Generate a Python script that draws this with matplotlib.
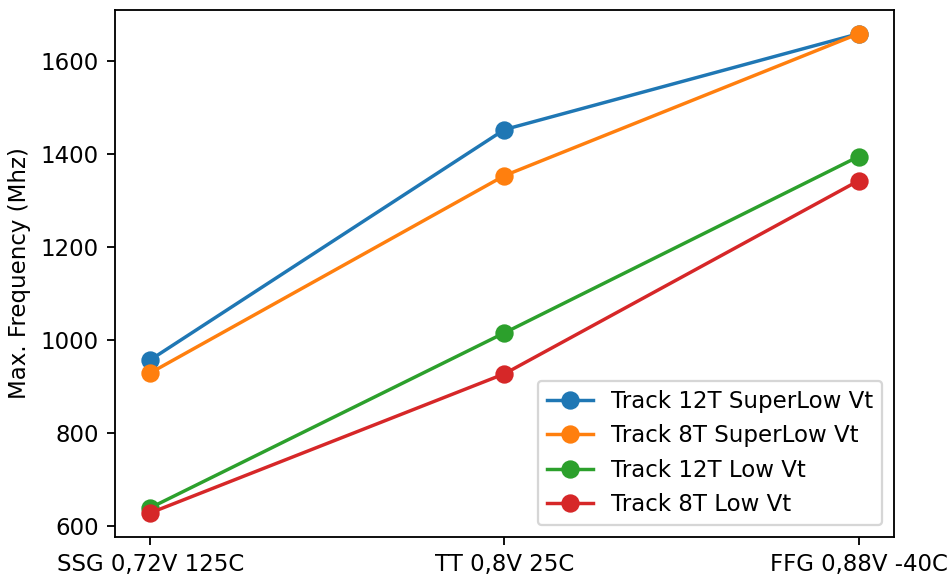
import matplotlib
matplotlib.use("Agg")
import matplotlib.pyplot as plt

# corners
corners = ["SSG 0,72V 125C", "TT 0,8V 25C", "FFG 0,88V -40C"]

# max frequency per library (Mhz)
track12_superlow = [957, 1452, 1658]
track8_superlow = [929, 1353, 1658]
track12_low = [639, 1015, 1394]
track8_low = [628, 927, 1342]

series = [
    ("Track 12T SuperLow Vt", track12_superlow),
    ("Track 8T SuperLow Vt", track8_superlow),
    ("Track 12T Low Vt", track12_low),
    ("Track 8T Low Vt", track8_low),
]

fig, ax = plt.subplots(figsize=(950 / 165, 576 / 165), dpi=165)
fig.subplots_adjust(left=0.121, right=0.941, top=0.983, bottom=0.068)

for label, vals in series:
    ax.plot(corners, vals, marker="o", markersize=7, label=label)

ax.set_ylabel("Max. Frequency (Mhz)")
ax.legend(loc="lower right")

fig.savefig("out.png", dpi=165)
